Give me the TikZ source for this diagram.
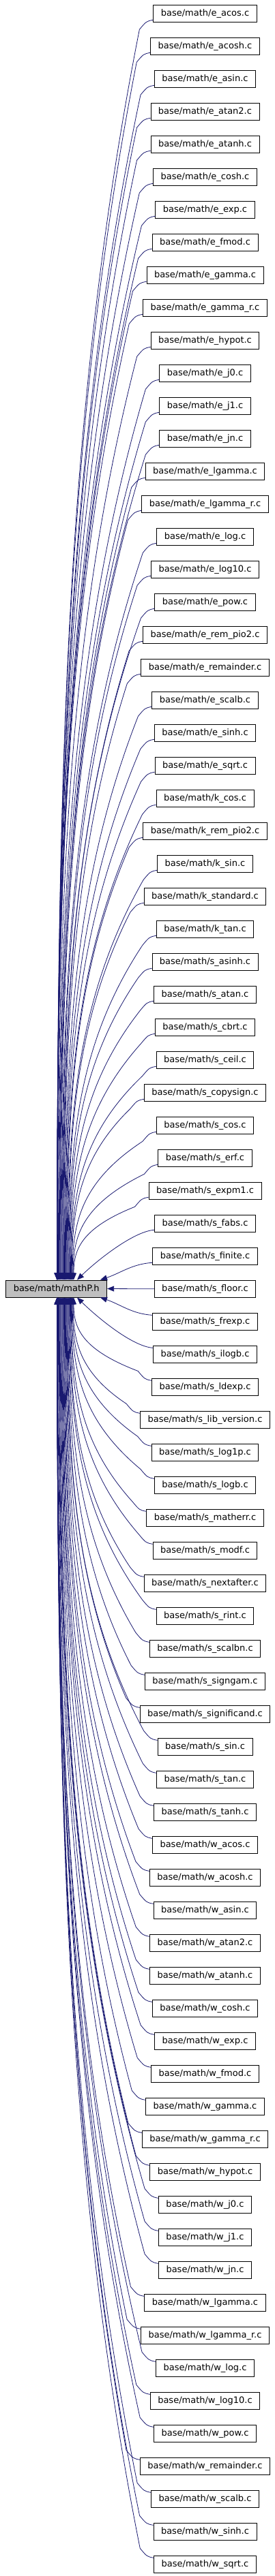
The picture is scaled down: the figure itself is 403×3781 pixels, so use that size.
\documentclass[tikz,border=0pt]{standalone}
\usepackage{fontspec}
\setmainfont{DejaVu Sans}
\usepackage{tikz}
\usetikzlibrary{arrows.meta,calc,positioning}
\definecolor{edgeblue}{RGB}{25,25,112}
\definecolor{headgray}{RGB}{191,191,191}

\begin{document}
\begin{tikzpicture}[x=1pt,y=1pt,
filenode/.style={rectangle, draw=black, line width=0.9pt, minimum height=25pt, inner xsep=11pt, inner ysep=0pt, font=\fontsize{13}{15}\selectfont},
headnode/.style={filenode, fill=headgray},
edge/.style={draw=edgeblue, line width=0.8pt, -{Triangle[length=10pt,width=8pt]}},
]
\useasboundingbox (0,0) rectangle (403,-3781);
%Nodes
\node[headnode](mathp) at (82.7,-1891.5){base/math/mathP.h};
\node[filenode](f0) at (300.5,-19.8){base/math/e\_acos.c};
\foreach \name [count=\i] in {e\_acosh,e\_asin,e\_atan2,e\_atanh,e\_cosh,e\_exp,e\_fmod,e\_gamma,e\_gamma\_r,e\_hypot,
  e\_j0,e\_j1,e\_jn,e\_lgamma,e\_lgamma\_r,e\_log,e\_log10,e\_pow,e\_rem\_pio2,e\_remainder,
  e\_scalb,e\_sinh,e\_sqrt,k\_cos,k\_rem\_pio2,k\_sin,k\_standard,k\_tan,s\_asinh,s\_atan,
  s\_cbrt,s\_ceil,s\_copysign,s\_cos,s\_erf,s\_expm1,s\_fabs,s\_finite,s\_floor,s\_frexp,
  s\_ilogb,s\_ldexp,s\_lib\_version,s\_log1p,s\_logb,s\_matherr,s\_modf,s\_nextafter,s\_rint,s\_scalbn,
  s\_signgam,s\_significand,s\_sin,s\_tan,s\_tanh,w\_acos,w\_acosh,w\_asin,w\_atan2,w\_atanh,
  w\_cosh,w\_exp,w\_fmod,w\_gamma,w\_gamma\_r,w\_hypot,w\_j0,w\_j1,w\_jn,w\_lgamma,
  w\_lgamma\_r,w\_log,w\_log10,w\_pow,w\_remainder,w\_scalb,w\_sinh,w\_sqrt}{
  \pgfmathtruncatemacro\j{\i-1}
  \node[filenode](f\i)[below=22.1pt of f\j]{base/math/\name.c};
}
%Edges
\foreach \i in {0,...,78}{
  \pgfmathtruncatemacro\d{\i-39}
  \pgfmathtruncatemacro\ad{abs(\d)}
  \pgfmathsetmacro\off{\ad==1 ? 64.3 : (\ad==2 ? 30.3 : max(1,25.3-0.9*(\ad-3)))}
  \ifnum\d<0
    \ifnum\ad<3
      \draw[edge] let \p1=($(f\i.south west)+(0,3.5)$), \p2=([xshift=\off pt]mathp.north) in
        (\p1) .. controls +(-30,-2) and ({\x2+30},{\y2+0.4*(\y1-\y2)}) .. (\p2);
    \else
      \draw[edge] let \p1=($(f\i.south west)+(0,3.5)$), \p2=([xshift=\off pt]mathp.north) in
        (\p1) .. controls +(-10,-2) .. ({\x1-20},{\y1-14})
        .. controls ({\x2+0.1*(\x1-20-\x2)},{\y1-14-0.3*(\y1-14-\y2)}) and ({\x2},{\y1-14-0.6*(\y1-14-\y2)}) .. (\p2);
    \fi
  \else\ifnum\d>0
    \ifnum\ad<3
      \draw[edge] let \p1=($(f\i.north west)+(0,-3.5)$), \p2=([xshift=\off pt]mathp.south) in
        (\p1) .. controls +(-30,2) and ({\x2+30},{\y2-0.4*(\y2-\y1)}) .. (\p2);
    \else
      \draw[edge] let \p1=($(f\i.north west)+(0,-3.5)$), \p2=([xshift=\off pt]mathp.south) in
        (\p1) .. controls +(-10,2) .. ({\x1-20},{\y1+14})
        .. controls ({\x2+0.1*(\x1-20-\x2)},{\y1+14+0.3*(\y2-\y1-14)}) and ({\x2},{\y1+14+0.6*(\y2-\y1-14)}) .. (\p2);
    \fi
  \else
    \draw[edge] (f\i.west) -- (mathp.east);
  \fi\fi
}
\end{tikzpicture}
\end{document}
